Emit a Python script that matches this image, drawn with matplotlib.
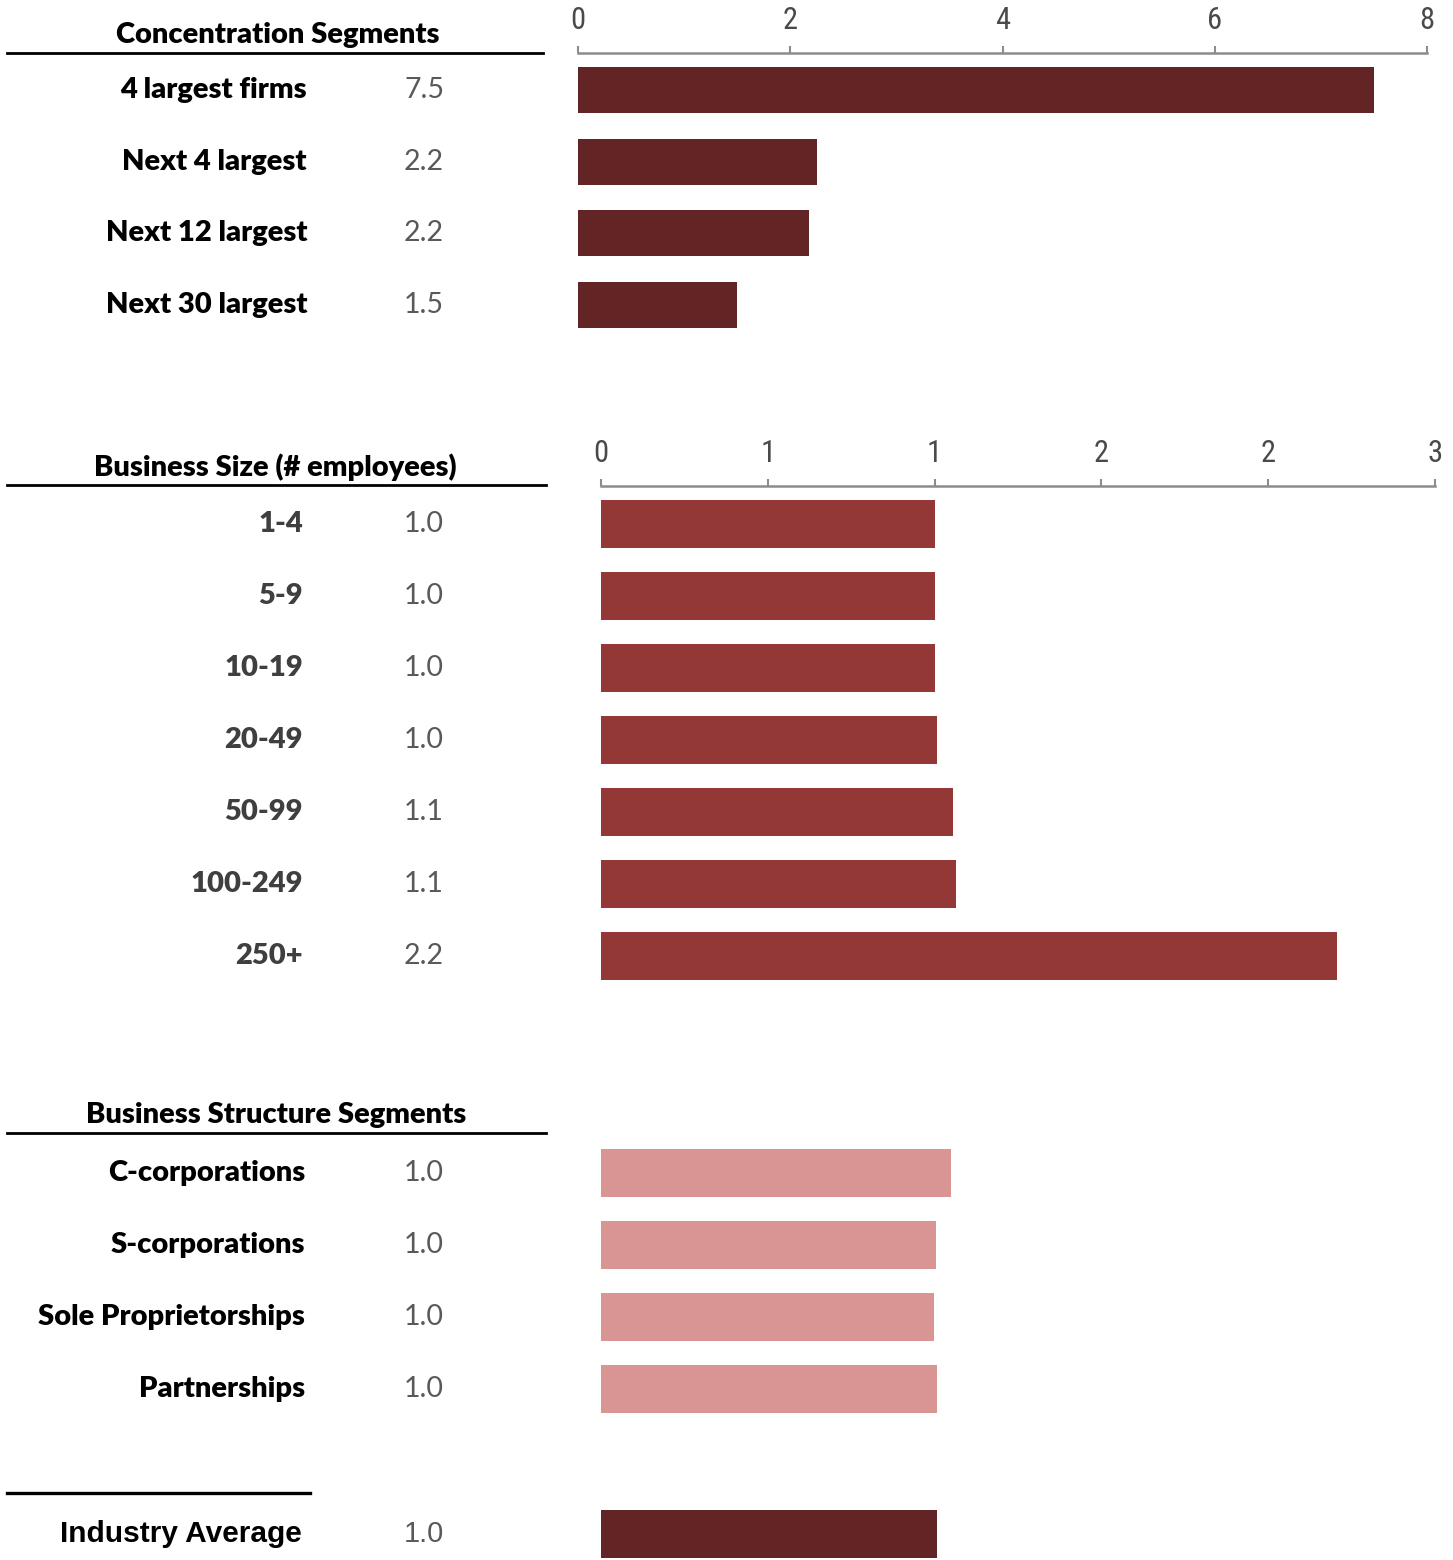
import math
import matplotlib
matplotlib.use("Agg")
import matplotlib.pyplot as plt
from matplotlib.lines import Line2D
from matplotlib.ticker import FixedLocator, FuncFormatter
from matplotlib.transforms import blended_transform_factory

# ---------------- data ----------------
conc_labels = ["4 largest firms", "Next 4 largest", "Next 12 largest", "Next 30 largest"]
conc_values = [7.5, 2.25, 2.18, 1.5]
conc_text = ["7.5", "2.2", "2.2", "1.5"]
conc_ticks = [0, 2, 4, 6, 8]

size_labels = ["1-4", "5-9", "10-19", "20-49", "50-99", "100-249", "250+"]
size_values = [1.0, 1.0, 1.0, 1.007, 1.055, 1.064, 2.206]
size_text = ["1.0", "1.0", "1.0", "1.0", "1.1", "1.1", "2.2"]
size_ticks = [0, 0.5, 1.0, 1.5, 2.0, 2.5]

struct_labels = ["C-corporations", "S-corporations", "Sole Proprietorships", "Partnerships"]
struct_values = [1.049, 1.003, 0.997, 1.006]
struct_text = ["1.0", "1.0", "1.0", "1.0"]

avg_label = "Industry Average"
avg_value = 1.008
avg_text = "1.0"

# ---------------- style ----------------
W, H = 1453, 1560
DARK = "#632426"
MID = "#943737"
LIGHT = "#D99594"
GRAY = "#8C8C8C"
LBL_FONT = ["Lato", "DejaVu Sans"]
NUM_FONT = ["Lato", "DejaVu Sans"]
TICK_FONT = ["Roboto Condensed", "Liberation Sans Narrow", "Roboto", "DejaVu Sans"]
LBL_WEIGHT = "heavy"

fig = plt.figure(figsize=(W / 100, H / 100), dpi=100)


def add_axes(x0, x1, y_top, y_bot):
    return fig.add_axes([x0 / W, 1 - y_bot / H, (x1 - x0) / W, (y_bot - y_top) / H])


def fx(px):
    return px / W


def fy(py):
    return 1 - py / H


def hline(x0, x1, y, lw=2.0):
    fig.add_artist(Line2D([fx(x0), fx(x1)], [fy(y), fy(y)], color="black", lw=lw,
                          transform=fig.transFigure))


def style_axis(ax, ticks, fmt):
    for s in ["right", "bottom", "left"]:
        ax.spines[s].set_visible(False)
    ax.spines["top"].set_color(GRAY)
    ax.spines["top"].set_linewidth(1.8)
    ax.xaxis.set_ticks_position("top")
    ax.xaxis.set_major_locator(FixedLocator(ticks))
    ax.xaxis.set_major_formatter(FuncFormatter(fmt))
    ax.tick_params(axis="x", direction="out", length=5, width=1.5, color=GRAY,
                   labelsize=22, labelcolor="#4A4A4A", pad=8)
    for t in ax.get_xticklabels():
        t.set_fontfamily(TICK_FONT)
        t.set_fontstretch("condensed")
    ax.set_yticks([])
    ax.patch.set_alpha(0)


def hide_axis(ax):
    for s in ax.spines.values():
        s.set_visible(False)
    ax.set_xticks([])
    ax.set_yticks([])
    ax.patch.set_alpha(0)


def row_labels(ax, labels, texts, lbl_x, color="black", family=LBL_FONT, numfamily=NUM_FONT,
               size=21, weight=LBL_WEIGHT, numsize=20.5, numweight="normal"):
    tr = blended_transform_factory(fig.transFigure, ax.transData)
    for i, (lab, tx) in enumerate(zip(labels, texts)):
        ax.text(fx(lbl_x), i, lab, transform=tr, ha="right", va="center",
                fontsize=size, fontweight=weight, color=color, family=family)
        ax.text(fx(424), i, tx, transform=tr, ha="center", va="center",
                fontsize=numsize, fontweight=numweight, color="#595959", family=numfamily)


half_up = lambda v, p: str(int(math.floor(v + 0.5)))


def header(x, y, s):
    fig.text(fx(x), fy(y), s, ha="center", va="center",
             fontsize=21, fontweight=LBL_WEIGHT, family=LBL_FONT)


# ---------------- panel 1 ----------------
ax1 = add_axes(578, 1427, 53, 342)
ax1.barh(range(len(conc_values)), conc_values, height=0.64, color=DARK)
ax1.set_xlim(0, 8)
ax1.set_ylim(3.514, -0.514)
style_axis(ax1, conc_ticks, half_up)
row_labels(ax1, conc_labels, conc_text, 307)
header(278, 35, "Concentration Segments")
hline(7, 543, 53)

# ---------------- panel 2 ----------------
ax2 = add_axes(601, 1435, 486, 994)
ax2.barh(range(len(size_values)), size_values, height=0.67, color=MID)
ax2.set_xlim(0, 2.5)
ax2.set_ylim(6.528, -0.528)
style_axis(ax2, size_ticks, half_up)
row_labels(ax2, size_labels, size_text, 303, color="#3F3F3F")
header(275, 467, "Business Size (# employees)")
hline(7, 546, 485)

# ---------------- panel 3 ----------------
ax3 = add_axes(601, 1435, 1133, 1429)
ax3.barh(range(len(struct_values)), struct_values, height=0.67, color=LIGHT)
ax3.set_xlim(0, 2.5)
ax3.set_ylim(3.556, -0.556)
hide_axis(ax3)
row_labels(ax3, struct_labels, struct_text, 305)
header(276, 1115, "Business Structure Segments")
hline(7, 546, 1133)

# ---------------- panel 4 ----------------
ax4 = add_axes(601, 1435, 1498, 1560)
ax4.barh([0], [avg_value], height=0.67, color=DARK)
ax4.set_xlim(0, 2.5)
ax4.set_ylim(0.361, -0.5)
hide_axis(ax4)
narrow = ["Liberation Sans Narrow", "Liberation Sans", "DejaVu Sans"]
row_labels(ax4, [avg_label], [avg_text], 302, family=narrow, numfamily=narrow, size=21.5,
           weight="bold", numsize=21, numweight="normal")
hline(7, 310, 1493, lw=2.4)

fig.savefig("out.png", dpi=100)
